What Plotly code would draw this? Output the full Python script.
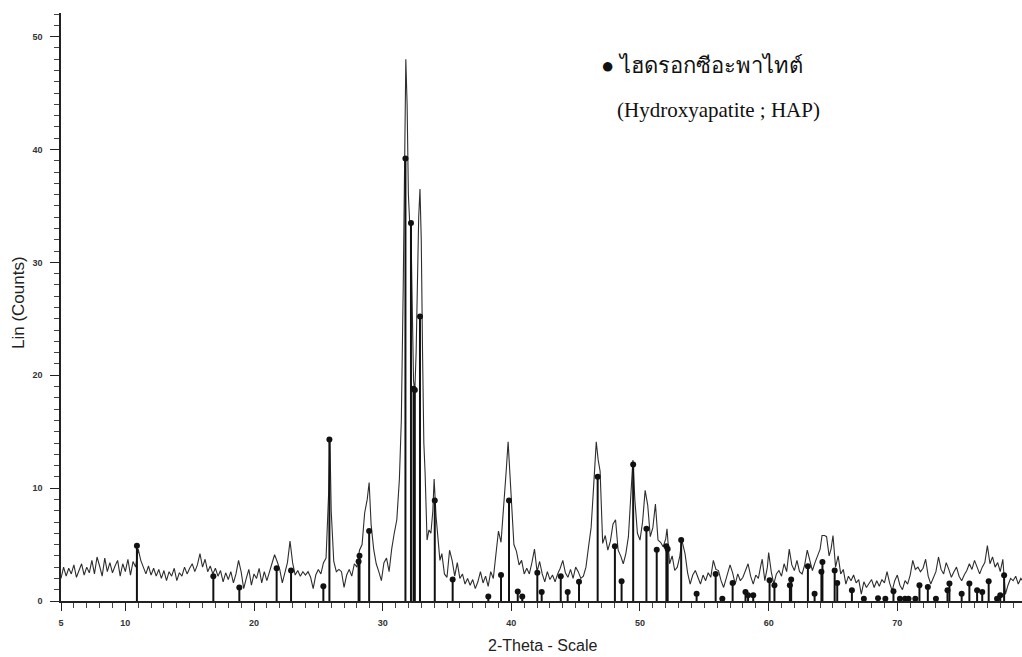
import plotly.graph_objects as go

# ---- measured pattern (2-theta, counts) ----
theta = [5.0,5.2,5.4,5.6,5.8,6.0,6.2,6.4,6.6,6.8,
         7.0,7.2,7.4,7.6,7.8,8.0,8.2,8.4,8.6,8.8,
         9.0,9.2,9.4,9.6,9.8,10.0,10.2,10.4,10.6,10.8,
         11.0,11.2,11.4,11.6,11.8,12.0,12.2,12.4,12.6,12.8,
         13.0,13.2,13.4,13.6,13.8,14.0,14.2,14.4,14.6,14.8,
         15.0,15.2,15.4,15.6,15.8,16.0,16.2,16.4,16.6,16.8,
         17.0,17.2,17.4,17.6,17.8,18.0,18.2,18.4,18.6,18.8,
         19.0,19.2,19.4,19.6,19.8,20.0,20.2,20.4,20.6,20.8,
         21.0,21.2,21.4,21.6,21.8,22.0,22.2,22.4,22.6,22.8,
         23.0,23.2,23.4,23.6,23.8,24.0,24.2,24.4,24.6,24.8,
         25.0,25.2,25.4,25.6,25.8,25.9,26.0,26.2,26.4,26.6,26.8,
         27.0,27.2,27.4,27.6,27.8,28.0,28.2,28.4,28.6,28.8,28.95,
         29.1,29.3,29.5,29.7,29.9,30.1,30.3,30.5,30.7,30.9,
         31.1,31.3,31.45,31.6,31.72,31.8,31.9,32.0,32.1,32.2,32.3,32.4,32.5,
         32.6,32.7,32.8,32.9,33.0,33.1,33.2,33.3,33.45,33.6,33.75,33.9,34.0,
         34.15,34.3,34.45,34.6,34.8,35.0,
         35.2,35.4,35.6,35.8,36.0,36.2,36.4,36.6,36.8,37.0,
         37.2,37.4,37.6,37.8,38.0,38.2,38.4,38.6,38.8,39.0,
         39.2,39.4,39.6,39.75,39.9,40.05,40.2,40.4,40.6,40.8,
         41.0,41.2,41.4,41.6,41.8,42.0,42.2,42.4,42.6,42.8,
         43.0,43.2,43.4,43.6,43.8,44.0,44.2,44.4,44.6,44.8,
         45.0,45.2,45.4,45.6,45.8,46.0,46.2,46.4,46.6,46.75,46.9,
         47.1,47.3,47.5,47.7,47.9,48.1,48.3,48.5,48.7,48.9,
         49.1,49.3,49.45,49.6,49.8,50.0,50.2,50.4,50.6,50.8,
         51.0,51.2,51.4,51.6,51.8,52.0,52.1,52.3,52.5,52.7,
         52.9,53.1,53.25,53.5,53.7,53.9,54.1,54.3,54.5,54.7,
         54.9,55.1,55.3,55.5,55.7,55.9,56.1,56.3,56.5,56.7,
         56.9,57.0,57.2,57.4,57.6,57.8,58.0,58.2,58.4,58.6,
         58.8,59.0,59.2,59.4,59.5,59.7,59.9,60.0,60.2,60.4,
         60.6,60.8,61.0,61.2,61.4,61.6,61.8,62.0,62.2,62.4,
         62.6,62.8,63.0,63.2,63.4,63.6,63.8,64.0,64.15,64.35,
         64.5,64.7,64.85,65.0,65.2,65.4,65.6,65.8,66.0,66.2,
         66.4,66.6,66.8,67.0,67.2,67.4,67.6,67.8,68.0,68.2,
         68.4,68.6,68.8,69.0,69.2,69.4,69.6,69.8,70.0,70.2,
         70.4,70.6,70.8,71.0,71.2,71.4,71.6,71.8,72.0,72.2,
         72.4,72.6,72.8,73.0,73.2,73.4,73.6,73.8,74.0,74.2,
         74.4,74.6,74.8,75.0,75.2,75.4,75.6,75.8,76.0,76.2,
         76.4,76.6,76.8,77.0,77.2,77.4,77.6,77.8,78.0,78.2,
         78.4,78.6,78.8,79.0,79.2,79.4,79.6,79.8]

counts = [2.0,3.0,2.2,2.9,2.4,3.2,2.1,2.8,3.3,2.3,
          3.0,2.5,3.6,2.4,3.9,3.1,2.2,3.8,2.6,3.4,
          2.5,3.1,3.6,2.2,3.3,2.6,3.7,2.3,3.5,3.0,
          4.6,3.6,2.9,2.4,3.1,2.3,2.9,2.2,2.8,2.0,
          2.7,1.8,2.6,2.2,2.9,1.8,2.5,2.2,3.0,2.4,
          2.9,3.3,2.6,3.2,4.2,3.0,3.7,2.6,3.1,2.4,
          2.9,2.2,2.7,1.7,2.5,1.9,2.6,1.6,2.4,3.6,
          2.6,1.1,2.0,2.8,1.4,2.4,2.0,2.9,1.6,2.6,
          1.8,2.6,3.4,4.1,3.5,2.8,1.6,2.6,3.4,5.3,
          3.4,2.3,2.7,2.2,2.6,2.3,2.6,2.1,1.1,2.3,
          2.8,2.4,3.4,3.8,9.5,14.4,8.0,3.5,2.6,2.8,2.6,
          1.2,2.3,2.8,2.2,3.3,3.0,4.5,5.0,7.8,9.0,10.5,
          6.8,4.6,3.3,2.6,1.8,3.4,3.8,2.6,4.6,6.0,
          7.2,10.8,16.0,28.0,42.0,48.0,44.0,36.0,33.5,33.0,26.0,19.5,18.6,
          22.0,28.0,34.0,36.5,32.0,22.0,14.0,11.3,5.4,6.3,6.0,8.0,10.8,
          7.5,5.4,3.6,4.2,2.4,2.1,
          4.5,3.6,2.2,3.4,2.0,2.4,1.5,2.0,1.4,1.9,
          1.1,1.7,2.6,1.6,2.2,1.3,2.6,2.0,4.0,6.2,
          5.2,8.0,11.5,14.1,11.0,7.4,5.0,4.4,3.2,3.6,
          2.4,2.9,2.4,3.4,4.6,2.6,3.5,2.4,1.7,2.6,
          1.9,2.3,1.7,2.4,2.9,3.6,2.5,2.1,2.8,2.0,
          3.0,2.6,2.0,2.2,3.0,4.8,6.5,10.2,14.1,12.5,11.5,
          5.1,5.8,4.5,5.3,6.8,7.2,4.5,4.0,3.3,4.2,
          5.7,9.5,12.5,9.0,6.0,5.4,7.0,9.8,8.5,5.7,
          6.5,8.6,5.4,5.2,4.8,5.5,6.4,3.3,4.0,2.7,
          3.0,4.0,5.4,4.2,2.5,1.5,2.3,2.7,2.0,1.5,
          2.3,1.8,2.5,2.1,3.6,2.8,2.7,1.8,1.2,2.0,
          2.6,3.2,2.5,1.5,2.4,1.8,2.1,2.8,3.3,2.2,
          1.5,2.3,2.0,3.2,3.7,1.8,3.0,4.3,2.6,1.5,
          2.4,2.7,2.2,3.3,2.6,4.6,3.2,2.7,3.6,2.6,
          2.4,3.2,4.5,3.6,2.7,3.4,4.0,4.6,5.8,5.8,
          5.7,4.0,4.6,5.8,3.0,4.0,2.4,2.8,1.5,2.2,
          1.8,2.3,1.6,1.9,0.6,1.7,1.2,1.5,1.9,1.2,
          1.8,1.3,1.9,1.6,2.6,1.6,0.9,1.8,2.3,1.4,
          1.0,1.8,1.5,2.3,3.6,2.8,3.0,2.6,2.9,3.7,
          2.2,1.5,2.1,2.6,3.9,2.8,2.4,3.4,2.8,2.1,
          2.6,3.0,2.2,1.8,2.3,2.7,3.3,2.8,3.6,2.9,
          2.4,3.0,3.4,4.9,3.3,3.9,3.0,3.4,2.6,3.7,
          0.6,1.4,2.0,1.8,2.2,1.5,2.0,1.7]

# ---- reference (HAP) stick pattern ----
ref_pos = [10.9, 16.84, 18.86, 21.76, 22.88, 25.39, 25.86, 28.13, 28.2, 28.95,
           31.77, 32.2, 32.4, 32.5, 32.9, 34.05, 35.44, 38.21, 39.2, 39.82,
           40.5, 40.85, 42.02, 42.36, 43.84, 44.38, 45.26, 46.71, 48.05, 48.57,
           49.47, 50.5, 51.3, 52.05, 52.15, 53.2, 54.4, 55.88, 56.4, 57.2,
           58.2, 58.4, 58.8, 60.07, 60.45, 61.65, 61.75, 63.05, 63.57, 64.1,
           64.18, 65.13, 65.33, 66.47, 67.4, 68.5, 69.07, 69.7, 70.2, 70.6,
           70.87, 71.4, 71.72, 72.37, 73.0, 73.9, 74.05, 75.0, 75.6, 76.2,
           76.6, 77.1, 77.75, 78.0, 78.3]
ref_int = [4.9, 2.2, 1.2, 2.9, 2.7, 1.3, 14.3, 3.5, 4.0, 6.2,
           39.2, 33.5, 18.8, 18.7, 25.2, 8.9, 1.9, 0.4, 2.3, 8.9,
           0.85, 0.4, 2.5, 0.8, 2.2, 0.8, 1.7, 11.0, 4.85, 1.75,
           12.1, 6.4, 4.55, 4.85, 4.6, 5.4, 0.65, 2.4, 0.2, 1.6,
           0.8, 0.5, 0.5, 1.84, 1.39, 1.39, 1.9, 3.07, 0.65, 2.6,
           3.46, 2.7, 1.6, 0.95, 0.2, 0.25, 0.2, 0.86, 0.2, 0.2,
           0.2, 0.2, 1.39, 1.24, 0.2, 0.95, 1.54, 0.65, 1.54, 0.95,
           0.8, 1.75, 0.2, 0.5, 2.28]

x_major = [5, 10, 20, 30, 40, 50, 60, 70, 80]
x_labels = ["5", "10", "20", "30", "40", "50", "60", "70", "80"]
y_major = [0, 10, 20, 30, 40, 50]

stick_x, stick_y = [], []
for p, h in zip(ref_pos, ref_int):
    stick_x += [p, p, None]
    stick_y += [0, h, None]

fig = go.Figure()
fig.add_trace(go.Scatter(x=theta, y=counts, mode="lines",
                         line=dict(color="#2e2e2e", width=1.1),
                         showlegend=False, hoverinfo="skip"))
fig.add_trace(go.Scatter(x=stick_x, y=stick_y, mode="lines",
                         line=dict(color="#111111", width=2),
                         showlegend=False, hoverinfo="skip"))
fig.add_trace(go.Scatter(x=ref_pos, y=ref_int, mode="markers",
                         marker=dict(color="#111111", size=6, symbol="circle"),
                         showlegend=False))

axis_font = dict(family="Liberation Sans, Arial, sans-serif", size=9, color="#333333",
                 weight="bold")

fig.update_xaxes(range=[5, 79.69], showgrid=False, zeroline=False,
                 showline=True, linecolor="#222222", linewidth=1.5,
                 tickmode="array", tickvals=x_major, ticktext=x_labels,
                 ticks="outside", ticklen=8, tickwidth=1, tickcolor="#222222",
                 tickfont=axis_font, ticklabelstandoff=4,
                 minor=dict(tickmode="linear", tick0=0, dtick=1, ticks="outside",
                            ticklen=5, tickwidth=1, tickcolor="#444444"))
fig.update_yaxes(range=[0, 52.1], showgrid=False, zeroline=False,
                 showline=True, linecolor="#222222", linewidth=1.5,
                 tickmode="array", tickvals=y_major,
                 ticks="outside", ticklen=9, tickwidth=1, tickcolor="#222222",
                 tickfont=axis_font, ticklabelstandoff=6,
                 minor=dict(tickmode="linear", tick0=0, dtick=1, ticks="outside",
                            ticklen=5, tickwidth=1, tickcolor="#444444"))

fig.update_layout(
    width=1022, height=657,
    margin=dict(l=61, r=0, t=13, b=56),
    paper_bgcolor="white", plot_bgcolor="white",
    annotations=[
        dict(text="2-Theta - Scale", xref="paper", yref="paper",
             x=(542 - 61) / 961, y=-(645 - 601) / 588, showarrow=False,
             xanchor="center", yanchor="middle",
             font=dict(family="Liberation Sans, Arial, sans-serif", size=16, color="#222222")),
        dict(text="Lin (Counts)", xref="paper", yref="paper",
             x=-(61 - 18) / 961, y=(601 - 303) / 588, showarrow=False, textangle=-90,
             xanchor="center", yanchor="middle",
             font=dict(family="Liberation Sans, Arial, sans-serif", size=17, color="#222222")),
        dict(text="● ไฮดรอกซีอะพาไทต์", xref="paper", yref="paper",
             x=(599 - 61) / 961, y=(601 - 65) / 588, showarrow=False,
             xanchor="left", yanchor="middle",
             font=dict(family="Liberation Serif, serif", size=22, color="#111111")),
        dict(text="(Hydroxyapatite ; HAP)", xref="paper", yref="paper",
             x=(615 - 61) / 961, y=(601 - 110) / 588, showarrow=False,
             xanchor="left", yanchor="middle",
             font=dict(family="Liberation Serif, 'Times New Roman', serif", size=21, color="#111111")),
    ],
)

fig.write_html("out.html")
